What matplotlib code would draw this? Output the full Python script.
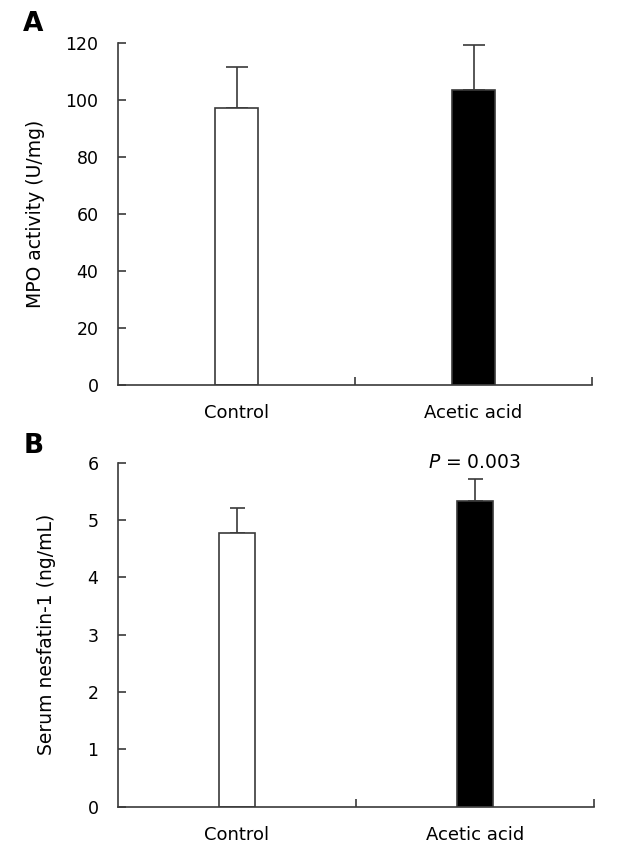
import matplotlib
matplotlib.use("Agg")
import matplotlib.pyplot as plt
import numpy as np

categories = ["Control", "Acetic acid"]
mpo_values = [97.3, 103.4]
mpo_errors = [14.4, 16.0]
nesfatin_values = [4.78, 5.34]
nesfatin_errors = [0.43, 0.37]
bar_colors = ["white", "black"]
mpo_ticks = [0, 20, 40, 60, 80, 100, 120]
nesfatin_ticks = [0, 1, 2, 3, 4, 5, 6]

plt.rcParams["font.family"] = ["DejaVu Sans"]
FS = 12.5
LC = "#3a3a3a"

fig = plt.figure(figsize=(6.3, 8.59), dpi=100)
W, H = 630, 859

def make_ax(left, right, top, bottom):
    return fig.add_axes([left / W, 1 - bottom / H, (right - left) / W, (bottom - top) / H])

axA = make_ax(118, 592, 43, 385)
axB = make_ax(118, 594, 462.7, 806.7)

def style(ax, vals, errs, width, ticks, ylabel, capsize, labx):
    x = np.arange(len(categories))
    ax.bar(x, vals, width=width, color=bar_colors, edgecolor=LC, linewidth=1.2, zorder=2)
    ax.errorbar(x, vals, yerr=[np.zeros(len(errs)), errs], fmt="none", ecolor=LC,
                elinewidth=1.2, capsize=capsize, capthick=1.2, zorder=1)
    ax.set_xlim(-0.5, 1.5)
    ax.set_ylim(ticks[0], ticks[-1])
    ax.set_yticks(ticks)
    ax.set_xticks(x)
    ax.set_xticklabels(categories, fontsize=13)
    ax.set_xticks([0.5, 1.5], minor=True)
    ax.tick_params(axis="x", which="major", length=0, pad=14)
    ax.tick_params(axis="x", which="minor", direction="in", length=6, width=1.2, color=LC)
    ax.tick_params(axis="y", direction="in", length=6, width=1.2, color=LC, labelsize=FS, pad=14)
    for s in ["top", "right"]:
        ax.spines[s].set_visible(False)
    for s in ["left", "bottom"]:
        ax.spines[s].set_color(LC)
        ax.spines[s].set_linewidth(1.2)
    ax.set_ylabel(ylabel, fontsize=13.5)
    ax.yaxis.set_label_coords(labx, 0.5)

style(axA, mpo_values, mpo_errors, 0.18, mpo_ticks, "MPO activity (U/mg)", 8, -0.154)
style(axB, nesfatin_values, nesfatin_errors, 0.148, nesfatin_ticks, "Serum nesfatin-1 (ng/mL)", 5.4, -0.13)

axB.annotate("$P$ = 0.003", xy=(1, nesfatin_values[1] + nesfatin_errors[1]),
             xytext=(0, 12), textcoords="offset points", ha="center", va="center",
             fontsize=13.5, annotation_clip=False)

fig.text(33 / W, 1 - 24 / H, "A", fontsize=19, fontweight="bold", ha="center", va="center")
fig.text(34 / W, 1 - 446 / H, "B", fontsize=19, fontweight="bold", ha="center", va="center")

fig.savefig("out.png", dpi=100)
